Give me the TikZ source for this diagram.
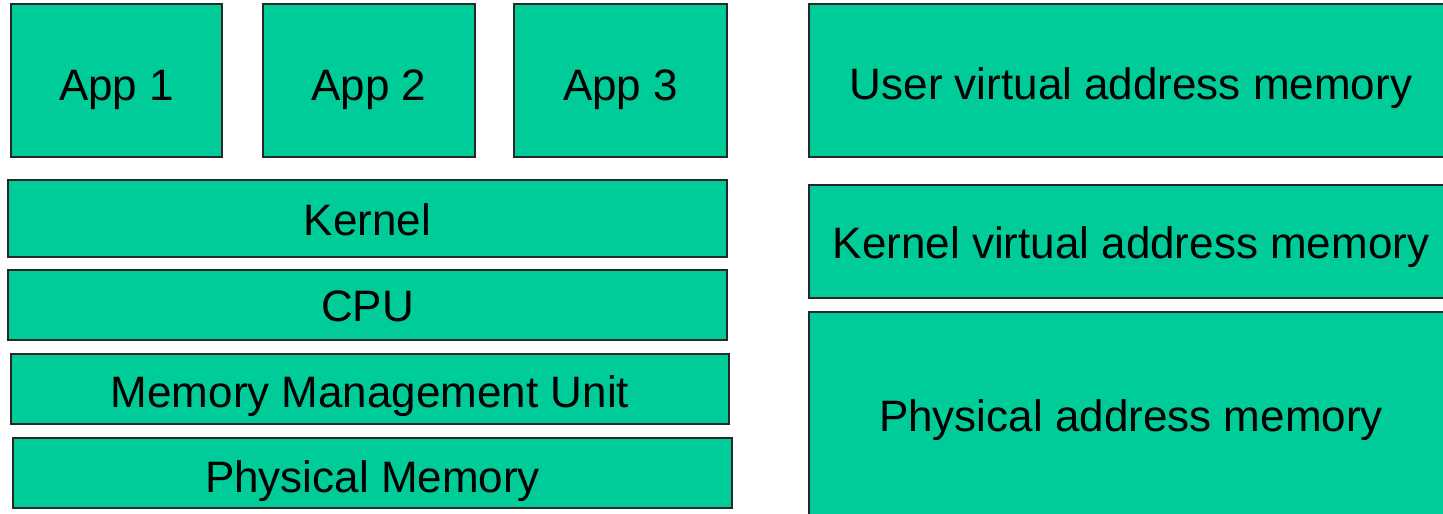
\documentclass[tikz,border=0pt]{standalone}
\usepackage{fontspec}
\setmainfont{Liberation Sans}
\definecolor{layer}{RGB}{0,204,153}
\definecolor{edge}{RGB}{40,40,40}
\tikzset{
  layerbox/.style={draw=edge, line width=1.2pt, fill=layer, anchor=north west,
    inner sep=0pt, outer sep=0pt},
  lbl/.style={anchor=base, inner sep=0pt, font=\fontsize{44}{50}\selectfont, text=black}
}
% box: name, left, top, width, height
\newcommand\layerat[5]{%
  \node[layerbox, minimum width=#4pt, minimum height=#5pt] (#1) at (#2,#3) {};}
\begin{document}
\begin{tikzpicture}[x=1pt,y=-1pt]
\useasboundingbox (0,0) rectangle (1443,514);
\fill[white] (0,0) rectangle (1443,514);
% software and hardware stack
\layerat{app1}{11}{4}{211}{153}
\layerat{app2}{263}{4}{212}{153}
\layerat{app3}{514}{4}{213}{153}
\layerat{kernel}{8}{180}{719}{77}
\layerat{cpu}{8}{270}{719}{70}
\layerat{mmu}{11}{354}{718}{70}
\layerat{phys}{13}{438}{719}{70}
% address spaces (run past the right and bottom edges)
\layerat{uvas}{809}{4}{651}{153}
\layerat{kvas}{809}{185}{651}{113}
\layerat{pas}{809}{312}{651}{218}
% labels
\node[lbl] at (app1.center |- 0,100) {App 1};
\node[lbl] at (app2.center |- 0,100) {App 2};
\node[lbl] at (app3.center |- 0,100) {App 3};
\node[lbl] at (kernel.center |- 0,235) {Kernel};
\node[lbl] at (cpu.center |- 0,321) {CPU};
\node[lbl] at (mmu.center |- 0,407) {Memory Management Unit};
\node[lbl] at (phys.center |- 0,492) {Physical Memory};
\node[lbl] at (1131,99) {User virtual address memory};
\node[lbl] at (1131,258) {Kernel virtual address memory};
\node[lbl] at (1131,431) {Physical address memory};
\end{tikzpicture}
\end{document}
